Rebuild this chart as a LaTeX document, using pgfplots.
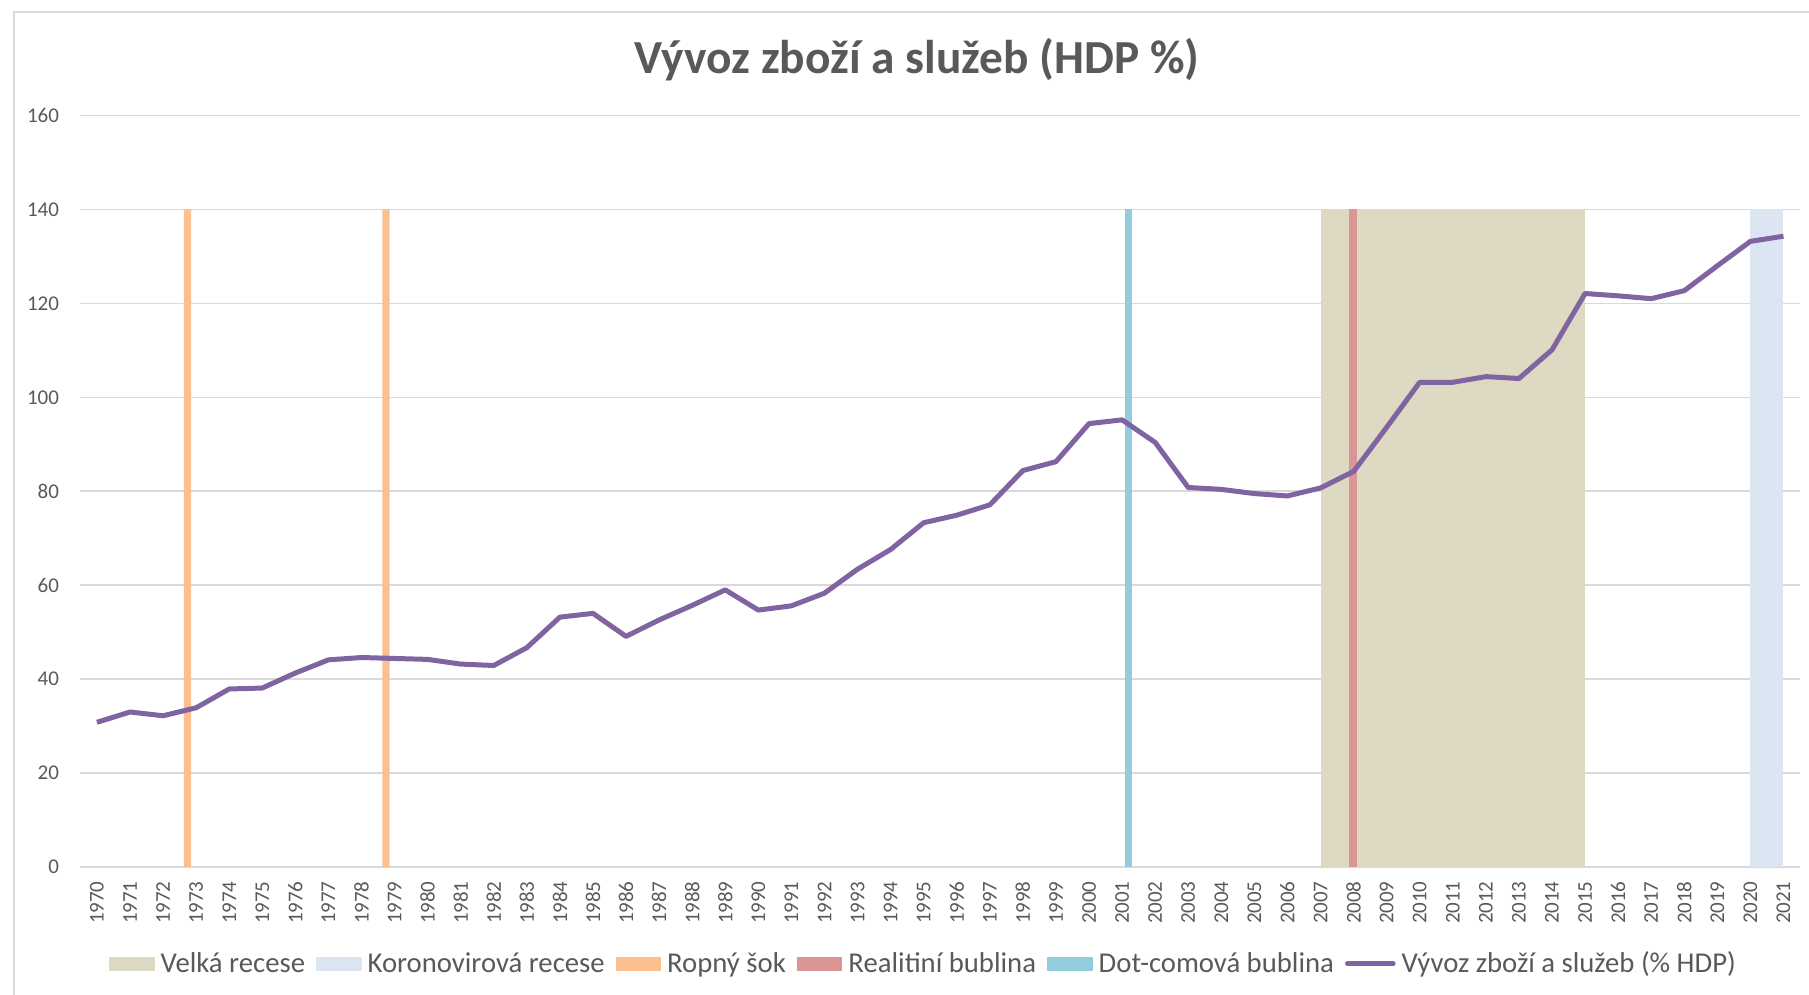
\documentclass[border=0pt]{standalone}
\usepackage{fontspec}
\setmainfont{Carlito}
\usepackage{pgfplots}
\pgfplotsset{compat=1.18}
\definecolor{cgrid}{HTML}{D9D9D9}
\definecolor{ctext}{HTML}{595959}
\definecolor{ctan}{HTML}{DDD9C3}
\definecolor{cblue}{HTML}{DCE6F2}
\definecolor{corange}{HTML}{FAC090}
\definecolor{cred}{HTML}{D99694}
\definecolor{caqua}{HTML}{93CDDD}
\definecolor{cpurple}{HTML}{8064A2}
\begin{document}
\begin{tikzpicture}
\path[use as bounding box] (0pt,0pt) rectangle (904.5pt,497.5pt);
\draw[cgrid, line width=0.75pt] (7pt,0pt) -- (7pt,491.5pt) -- (904.5pt,491.5pt);
\node[font=\fontsize{23.7}{28}\selectfont\bfseries, text=ctext] at (458.5pt,467.5pt) {Vývoz zboží a služeb (HDP \%)};
\begin{axis}[
  at={(40.2pt,64pt)}, anchor=south west,
  width=859.8pt, height=375.75pt, scale only axis,
  xmin=1969.5, xmax=2021.5, ymin=0, ymax=160,
  xtick={1970,1971,1972,1973,1974,1975,1976,1977,1978,1979,1980,1981,1982,1983,1984,1985,1986,1987,1988,1989,1990,1991,1992,1993,1994,1995,1996,1997,1998,1999,2000,2001,2002,2003,2004,2005,2006,2007,2008,2009,2010,2011,2012,2013,2014,2015,2016,2017,2018,2019,2020,2021},
  ytick={0,20,40,60,80,100,120,140,160},
  ymajorgrids, grid style={draw=cgrid, line width=0.75pt},
  axis line style={draw=none},
  major tick length=0pt, tick style={draw=none},
  /pgf/number format/assume math mode=true,
  /pgf/number format/1000 sep={},
  ticklabel style={font=\fontsize{10.5}{12}\selectfont, text=ctext},
  xticklabel style={rotate=90, anchor=east, inner sep=0pt},
  xticklabel shift=7pt,
  yticklabel style={anchor=east, inner sep=0pt},
  yticklabel shift=10.5pt,
  legend columns=-1,
  legend style={at={(0.4897,-0.1287)}, anchor=center, draw=none, fill=none,
    font=\fontsize{14.35}{17}\selectfont, text=ctext,
    nodes={inner sep=0pt},
    /tikz/every odd column/.append style={column sep=3pt},
    /tikz/every even column/.append style={column sep=5.5pt}},
]
\addplot[fill=ctan, draw=none,
  legend image code/.code={\fill[ctan] (0pt,-3.5pt) rectangle (22.8pt,3.5pt);}]
  coordinates {(2007,0) (2007,140) (2015,140) (2015,0)} -- cycle;
\addlegendentry{Velká recese}
\addplot[fill=cblue, draw=none,
  legend image code/.code={\fill[cblue] (0pt,-3.5pt) rectangle (22.8pt,3.5pt);}]
  coordinates {(2020,0) (2020,140) (2021,140) (2021,0)} -- cycle;
\addlegendentry{Koronovirová recese}
\addplot[ybar, bar width=3.6pt, bar shift=-4.3pt, fill=corange, draw=none,
  legend image code/.code={\fill[corange] (0pt,-3.5pt) rectangle (22.8pt,3.5pt);}]
  coordinates {(1973,140) (1979,140)};
\addlegendentry{Ropný šok}
\addplot[ybar, bar width=3.6pt, bar shift=-0.3pt, fill=cred, draw=none,
  legend image code/.code={\fill[cred] (0pt,-3.5pt) rectangle (22.8pt,3.5pt);}]
  coordinates {(2008,140)};
\addlegendentry{Realitiní bublina}
\addplot[ybar, bar width=3.6pt, bar shift=3.3pt, fill=caqua, draw=none,
  legend image code/.code={\fill[caqua] (0pt,-3.5pt) rectangle (22.8pt,3.5pt);}]
  coordinates {(2001,140)};
\addlegendentry{Dot-comová bublina}
\addplot[cpurple, line width=2.5pt, line join=round, mark=none,
  legend image code/.code={\draw[cpurple, line width=2.5pt, line cap=round] (0pt,0pt) -- (22.8pt,0pt);}]
  table {
x y
1970 30.8
1971 33.0
1972 32.2
1973 33.9
1974 37.9
1975 38.1
1976 41.3
1977 44.1
1978 44.6
1979 44.4
1980 44.2
1981 43.2
1982 42.9
1983 46.7
1984 53.2
1985 54.0
1986 49.1
1987 52.6
1988 55.7
1989 59.0
1990 54.7
1991 55.6
1992 58.3
1993 63.4
1994 67.6
1995 73.3
1996 74.9
1997 77.1
1998 84.4
1999 86.3
2000 94.4
2001 95.2
2002 90.4
2003 80.8
2004 80.4
2005 79.5
2006 79.0
2007 80.7
2008 84.2
2009 93.6
2010 103.2
2011 103.2
2012 104.4
2013 104.0
2014 110.1
2015 122.1
2016 121.6
2017 121.0
2018 122.7
2019 128.0
2020 133.2
2021 134.3
};
\addlegendentry{Vývoz zboží a služeb (\% HDP)}
\end{axis}
\end{tikzpicture}
\end{document}
